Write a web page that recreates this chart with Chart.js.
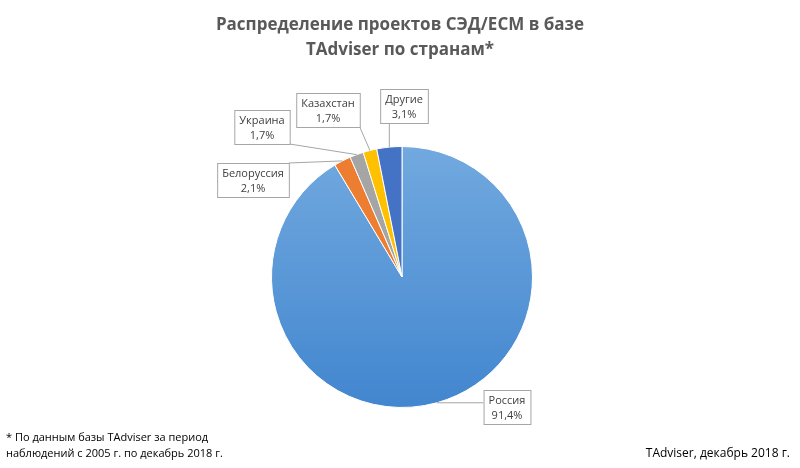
<!DOCTYPE html>
<html><head><meta charset="utf-8">
<script src="https://cdn.jsdelivr.net/npm/chart.js@4"></script>
<style>body{margin:0;background:#fff}#w{width:800px;height:468px}</style>
</head><body><div id="w"><canvas id="c"></canvas></div>
<script>
const categories=["Россия","Белоруссия","Украина","Казахстан","Другие"];
const values=[91.4,2.1,1.7,1.7,3.1];
const valueLabels=["91,4%","2,1%","1,7%","1,7%","3,1%"];
const labelPos=[[507,407],[253,180],[262,127],[328,110],[404,106]];
const colors=[null,"#ed7d31","#a5a5a5","#ffc000","#4472c4"];
const F="'Open Sans','DejaVu Sans',sans-serif";
const labelsPlugin={id:'lp',afterDraw(ch){
  const ctx=ch.ctx,meta=ch.getDatasetMeta(0);
  ctx.save();
  ctx.fillStyle="#595959";ctx.textAlign="center";ctx.font="bold 17px "+F;
  ctx.fillText("Распределение проектов СЭД/ECM в базе",400,30);
  ctx.fillText("TAdviser по странам*",400,55);
  ctx.font="11px "+F;ctx.fillStyle="#000";ctx.textAlign="left";
  ctx.fillText("* По данным базы TAdviser за период",6,441);
  ctx.fillText("наблюдений с 2005 г. по декабрь 2018 г.",6,457);
  ctx.textAlign="right";ctx.font="12px "+F;
  ctx.fillText("TAdviser, декабрь 2018 г.",790,457);
  ctx.font="11px "+F;ctx.textAlign="center";
  meta.data.forEach((a,i)=>{
    const [x,y]=labelPos[i];
    const w=Math.max(ctx.measureText(categories[i]).width,ctx.measureText(valueLabels[i]).width)+10;
    const h=34,bx=x-w/2,by=y-h/2;
    const mid=(a.startAngle+a.endAngle)/2;
    const px=a.x+Math.cos(mid)*a.outerRadius,py=a.y+Math.sin(mid)*a.outerRadius;
    ctx.strokeStyle="#a6a6a6";ctx.lineWidth=1;
    const tx=Math.min(Math.max(px,bx),bx+w),ty=Math.min(Math.max(py,by),by+h);
    ctx.beginPath();ctx.moveTo(px,py);ctx.lineTo(tx,ty);ctx.stroke();
    ctx.fillStyle="#fff";ctx.fillRect(bx,by,w,h);ctx.strokeRect(bx+.5,by+.5,w,h);
    ctx.fillStyle="#404040";
    ctx.fillText(categories[i],x,y-3);ctx.fillText(valueLabels[i],x,y+12);
  });
  ctx.restore();
}};
new Chart(document.getElementById('c'),{type:'pie',
 data:{labels:categories,datasets:[{data:values,borderColor:"#fff",borderWidth:1,
  backgroundColor(c){
    if(c.dataIndex>0)return colors[c.dataIndex];
    const ca=c.chart.chartArea;if(!ca)return "#5b9bd5";
    const g=c.chart.ctx.createLinearGradient(0,ca.top,0,ca.bottom);
    g.addColorStop(0,"#72a9df");g.addColorStop(1,"#4286cf");return g;}}]},
 options:{responsive:true,maintainAspectRatio:false,animation:false,
  layout:{padding:{top:146,bottom:60,left:4,right:0}},
  plugins:{legend:{display:false},tooltip:{enabled:false}}},
 plugins:[labelsPlugin]});
</script></body></html>
